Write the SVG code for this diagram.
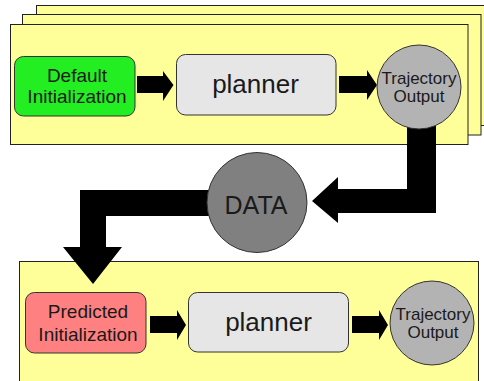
<svg xmlns="http://www.w3.org/2000/svg" width="484" height="381" viewBox="0 0 484 381">
  <style>
    .panel { fill: #ffff99; stroke: #222222; stroke-width: 1; }
    .box { stroke: #333333; stroke-width: 1; }
    .circ { stroke: #333333; stroke-width: 1; }
    .arrow { fill: #000000; stroke: none; }
    text { font-family: "Liberation Sans", Arial, sans-serif; fill: #1a1a1a; text-anchor: middle; }
  </style>
  <rect width="484" height="381" fill="#ffffff"/>

  <!-- stacked run panels (top) -->
  <g id="stack">
    <rect class="panel" x="36.5" y="5.5" width="470" height="120"/>
    <rect class="panel" x="22.5" y="14.5" width="458.5" height="120.5"/>
    <rect class="panel" x="10.5" y="24.5" width="457.5" height="120"/>
  </g>
  <!-- second run panel (bottom) -->
  <g id="panel-bottom">
    <rect class="panel" x="19.5" y="261.5" width="459" height="130"/>
  </g>

  <!-- connectors -->
  <g id="connectors">
    <polygon class="arrow" points="137,76 163,76 163,71 173.5,85 163,101 163,93 137,93"/>
    <polygon class="arrow" points="339,76 367,76 367,70 377,85 367,100 367,93 339,93"/>
    <polygon class="arrow" points="407,120 436,120 436,213 338,213 338,223 312,201 338,177 338,189 407,189"/>
    <polygon class="arrow" points="215,190 80,190 80,247 63,247 93,284 122,247 106,247 106,216 215,216"/>
    <polygon class="arrow" points="150,316 177,316 177,310 186,325 177,340 177,333 150,333"/>
    <polygon class="arrow" points="352,316 379,316 379,310 388,325 379,340 379,333 352,333"/>
  </g>

  <g id="default-init">
    <rect class="box" x="14.5" y="56.5" width="120.5" height="59.5" rx="9" fill="#22ee22"/>
    <text x="77" y="82" font-size="19">Default</text>
    <text x="77" y="103" font-size="19">Initialization</text>
  </g>
  <g id="planner-top">
    <rect class="box" x="176.5" y="54.5" width="159.5" height="60.5" rx="9" fill="#e6e6e6"/>
    <text x="255.5" y="93" font-size="26">planner</text>
  </g>
  <g id="trajectory-top">
    <circle class="circ" cx="419" cy="87" r="42" fill="#b3b3b3"/>
    <text x="419" y="83.5" font-size="17">Trajectory</text>
    <text x="419" y="101.5" font-size="17">Output</text>
  </g>
  <g id="data">
    <circle class="circ" cx="257" cy="202.5" r="50" fill="#808080"/>
    <text x="256" y="214" font-size="25">DATA</text>
  </g>
  <g id="predicted-init">
    <rect class="box" x="25.5" y="292.5" width="120.5" height="60.5" rx="9" fill="#ff8080"/>
    <text x="88" y="318" font-size="19">Predicted</text>
    <text x="88" y="341" font-size="19">Initialization</text>
  </g>
  <g id="planner-bottom">
    <rect class="box" x="188.5" y="292.5" width="160" height="59.5" rx="9" fill="#e6e6e6"/>
    <text x="268.5" y="331" font-size="26">planner</text>
  </g>
  <g id="trajectory-bottom">
    <circle class="circ" cx="432" cy="323" r="42" fill="#b3b3b3"/>
    <text x="433" y="320" font-size="17">Trajectory</text>
    <text x="433" y="338" font-size="17">Output</text>
  </g>
</svg>
